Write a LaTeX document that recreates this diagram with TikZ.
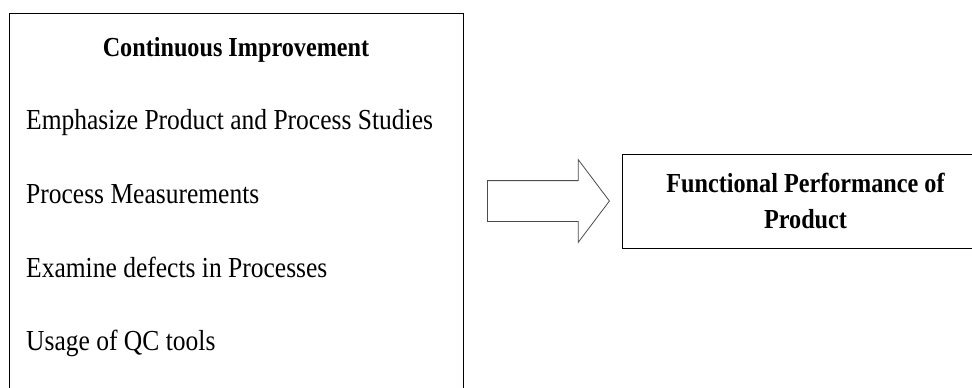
\documentclass[tikz,border=0pt]{standalone}
\usepackage{fontspec}
\setmainfont{Liberation Serif}[FakeStretch=0.88]
\usetikzlibrary{%
  positioning,
  shapes.arrows
}
\tikzset{
  box/.style = {draw, line width = 1pt, inner sep = 0},
  item/.style = {font = \fontsize{29}{34}\selectfont, anchor = base west, inner sep = 0},
  head/.style = {font = \fontsize{27.5}{36}\selectfont\bfseries, inner sep = 0},
  block/.style = {single arrow, draw = black!70, line width = 0.8pt,
    inner xsep = 0, inner ysep = 20pt, minimum height = 122pt,
    single arrow head extend = 21pt, single arrow tip angle = 106}
}

\begin{document}
\begin{tikzpicture}[x = 1pt, y = -1pt]
    \useasboundingbox (0,0) rectangle (972,388);
    % left box
    \node (improve) [box, minimum width = 454pt, minimum height = 392pt] at (236,209) {};
    \node (title) [head, anchor = base] at (236,56) {Continuous Improvement};
    \node (emph) [item] at (26,129) {Emphasize Product and Process Studies};
    \node (measure) [item, below = 74pt of emph.base west, anchor = base west] {Process Measurements};
    \node (defects) [item, below = 74pt of measure.base west, anchor = base west] {Examine defects in Processes};
    \node (tools) [item, below = 73pt of defects.base west, anchor = base west] {Usage of QC tools};
    % arrow and right box
    \node (shift) [block, anchor = tail] at (487,201) {};
    \node (perf) [box, head, align = center, anchor = west,
      minimum width = 366pt, minimum height = 94pt] at (622,201)
      {Functional Performance of\\ Product};
\end{tikzpicture}
\end{document}
